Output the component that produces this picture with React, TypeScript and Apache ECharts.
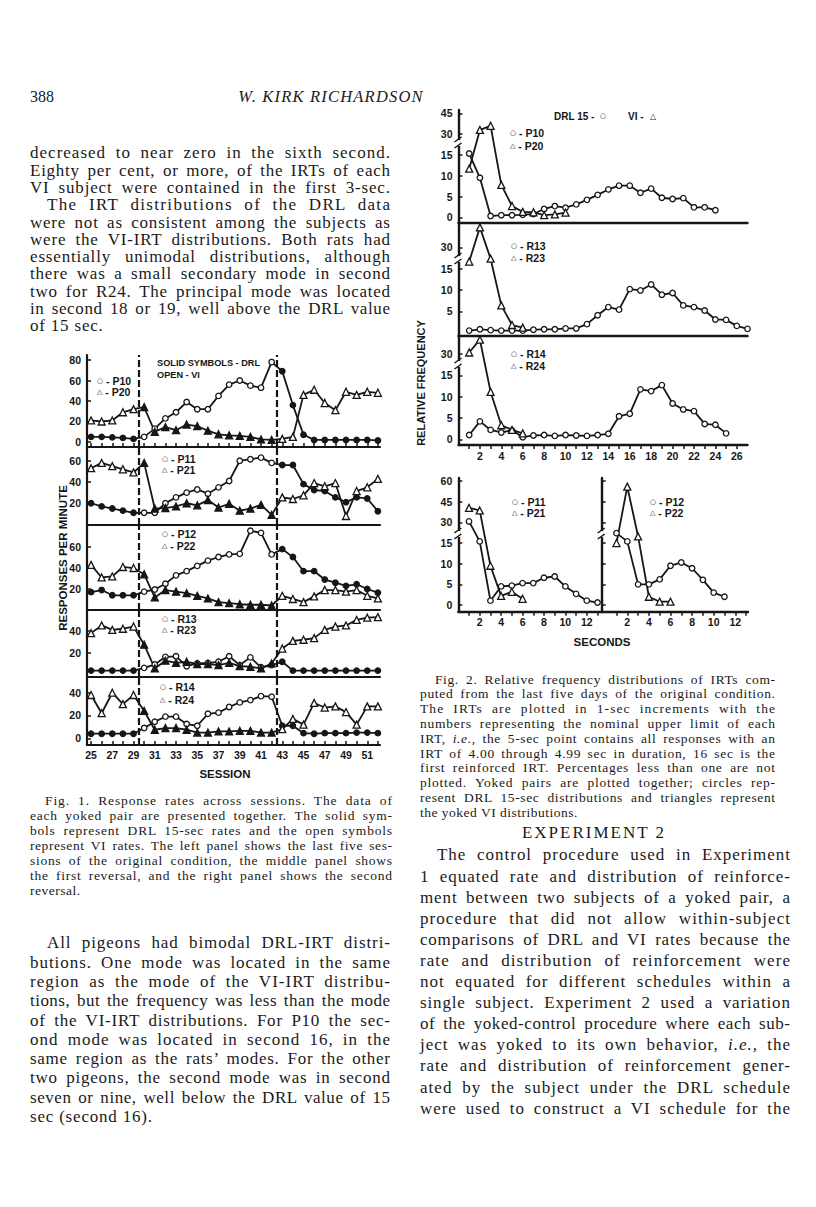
import React, { useEffect, useRef } from "react";
import * as echarts from "echarts";

// ---------------- DATA ----------------
const SESSIONS = [25, 26, 27, 28, 29, 30, 31, 32, 33, 34, 35, 36, 37, 38, 39, 40, 41, 42, 43, 44, 45, 46, 47, 48, 49, 50, 51, 52];
const SESSION_LABELS = [25, 27, 29, 31, 33, 35, 37, 39, 41, 43, 45, 47, 49, 51];
const REVERSALS = [29.5, 42.5];
const LAST_BASELINE = 29;
const LAST_REVERSAL = 42;

// Fig. 1 responses per minute (circle subject / triangle subject)
const P10 = [5, 5, 4.5, 4, 3, 5, 13, 23, 29, 39, 32, 32, 45, 56, 60, 55, 53, 78, 69, 36, 7, 2, 2, 2, 2, 2, 2, 1.5];
const P20 = [21, 20, 21, 29, 32, 34, 10, 14.5, 11.5, 17, 15.5, 11, 7.5, 6.5, 6, 5, 2.5, 2, 3, 5, 46, 51, 38, 31, 49, 46, 49, 48];
const P11 = [20, 17, 15, 13, 11, 11, 11, 20, 25.5, 30, 33, 29, 35, 41, 60, 61.5, 63, 58, 56, 56, 38, 32.5, 31.5, 25.5, 21, 25.5, 24.5, 12.5];
const P21 = [53, 58, 55, 52, 49, 58, 15, 15.5, 17, 20, 18, 23, 16, 19.5, 13, 15, 18.5, 9, 25.5, 24, 27.5, 39, 36, 39, 8, 31.5, 35, 43];
const P12 = [17, 19, 14, 14, 14, 17.5, 19.5, 25, 33, 37, 42, 47, 50.5, 53, 53.5, 75.5, 73.5, 53, 58, 50.5, 37, 37, 29, 26, 23, 24.5, 20, 16.5];
const P22 = [43, 31, 32, 41, 40, 34, 12, 19, 17.5, 16, 13.5, 11, 7.5, 6.5, 5.5, 5, 5, 4.3, 13.5, 10.5, 7.5, 13, 19, 19, 17.5, 19, 13.5, 11];
const R13 = [4, 4, 4, 4, 4, 6.5, 9.5, 16.5, 17, 8, 10.5, 11, 12, 17, 9, 16, 7, 9, 12, 4, 4, 4, 4, 4, 4, 4, 4, 4];
const R23 = [38, 45, 41, 42, 44, 27.5, 6, 13, 11, 12, 10, 10, 9, 11, 8, 7.5, 6, 10.5, 24, 31, 32, 33.5, 41, 44, 45, 50, 52, 52.5];
const R14 = [4, 4, 4, 4, 4, 9, 14.5, 19, 19, 12.5, 11, 21.5, 22.5, 27.5, 31.5, 33.5, 37, 36.5, 11, 11, 4.5, 4, 4.5, 4.5, 4.5, 5, 5, 4.5];
const R24 = [38, 22, 40, 30, 38, 24, 7.5, 9, 9, 7.5, 5, 5, 6, 6, 6.5, 6.5, 5, 5, 8, 17, 12, 31, 27, 28, 23, 12, 28, 28];

const FIG1_TICKS = [[0, 20, 40, 60, 80], [20, 40, 60], [20, 40, 60], [20, 40], [0, 20, 40]];

// Fig. 2 relative frequency (%) by second 1..n
const F_P10 = [16, 9.5, 0.3, 0.5, 0.5, 0.6, 0.8, 2, 2.7, 2.3, 3.1, 4.2, 5.4, 6.7, 7.6, 7.6, 5.9, 6.9, 4.7, 4.4, 4.6, 2.4, 2.4, 1.7];
const F_P20 = [11.7, 33, 36, 7.8, 2.7, 1.3, 1.2, 0.5, 0.7, 1.1];
const F_R13 = [0.5, 0.8, 0.6, 0.5, 0.5, 0.5, 0.7, 0.8, 0.8, 1, 1, 2, 4.1, 6, 5.4, 10.2, 9.9, 11.3, 8.9, 9.3, 6.4, 6, 5.2, 3.1, 3, 1.6, 0.9];
const F_R23 = [20, 44, 22, 6.4, 1.8, 1.2];
const F_R14 = [1, 4.2, 2.2, 1.6, 2.1, 0.5, 0.9, 1, 0.8, 1, 0.9, 0.8, 1, 1.3, 5.4, 6, 11.7, 11.3, 12.7, 8.4, 7, 6.6, 3.6, 3.4, 1.4];
const F_R24 = [31, 40, 11.1, 3.3, 2.2, 1.4];
const F_P11 = [30.7, 16.2, 1.05, 4.5, 4.7, 5.3, 5.3, 6.6, 6.9, 4.5, 2.7, 1.05, 0.6];
const F_P21 = [40.5, 38.7, 9.5, 2.2, 3.2, 1.5];
const F_P12 = [22.2, 16.2, 5, 5, 6.2, 9.5, 10.3, 8.9, 6.1, 3, 2];
const F_P22 = [15, 56, 19.8, 2, 0.8, 0.8];

const SEC_TICKS_TOP = [1, 2, 3, 4, 5, 6, 7, 8, 9, 10, 11, 12, 13, 14, 15, 16, 17, 18, 19, 20, 21, 22, 23, 24, 25, 26];
const SEC_LABELS_TOP = [2, 4, 6, 8, 10, 12, 14, 16, 18, 20, 22, 24, 26];
const SEC_TICKS_LOW = [1, 2, 3, 4, 5, 6, 7, 8, 9, 10, 11, 12, 13];
const SEC_LABELS_LOW = [2, 4, 6, 8, 10, 12];
const FREQ_TICKS = [[0, 5, 10, 15, 30, 45], [5, 10, 15, 30], [0, 5, 10, 15, 30], [0, 5, 10, 15, 30, 45, 60]];
const BREAK_AT = 15;
const BREAK_RATIO = 3;

// ---------------- LAYOUT / STYLE ----------------
const SANS = '"Liberation Sans", Arial, sans-serif';
const SERIF = '"Liberation Serif", "Times New Roman", serif';
const INK = "#161616";

const brk = (v: number) => (v <= BREAK_AT ? v : BREAK_AT + (v - BREAK_AT) / BREAK_RATIO);
const unbrk = (t: number) => (t <= BREAK_AT ? t : BREAK_AT + (t - BREAK_AT) * BREAK_RATIO);

const FIG1_LAYOUT = [
  { top: 355, bottom: 447, min: -4.9, max: 84.9 },
  { top: 447, bottom: 525, min: -0.5, max: 73 },
  { top: 525, bottom: 610, min: 0, max: 81 },
  { top: 610, bottom: 677, min: -1.8, max: 59 },
  { top: 677, bottom: 745, min: -5.9, max: 53.8 },
];
const FIG1_X = { left: 87, width: 293, min: 24.62, max: 52.2 };

const FIG2_LAYOUT = [
  { left: 458.5, right: 747.5, top: 110, bottom: 222.7, min: -1.3, max: 25.8, xmin: 0, xmax: 27 },
  { left: 458.5, right: 747.5, top: 222.7, bottom: 336, min: -0.77, max: 25.76, xmin: 0, xmax: 27 },
  { left: 458.5, right: 747.5, top: 336, bottom: 445, min: -1.33, max: 24.2, xmin: 0, xmax: 27 },
  { left: 458.3, right: 602, top: 478, bottom: 611.7, min: -1.62, max: 30.75, xmin: 0, xmax: 13.42 },
  { left: 601.7, right: 748, top: 478, bottom: 611.7, min: -1.62, max: 30.75, xmin: -0.37, xmax: 13.18 },
];

const axisFont = { fontFamily: SANS, fontWeight: "bold" as const, fontSize: 10.5, color: INK };

function buildOption() {
  const grid: any[] = [];
  const xAxis: any[] = [];
  const yAxis: any[] = [];
  const series: any[] = [];
  const graphic: any[] = [];

  const fig1Pairs = [
    [P10, P20],
    [P11, P21],
    [P12, P22],
    [R13, R23],
    [R14, R24],
  ];

  FIG1_LAYOUT.forEach((p, i) => {
    grid.push({ left: FIG1_X.left, width: FIG1_X.width, top: p.top, height: p.bottom - p.top });
    const showTicks = i === 0 || i === 4;
    xAxis.push({
      gridIndex: i,
      type: "value",
      min: FIG1_X.min,
      max: FIG1_X.max,
      axisLine: { show: true, onZero: false, lineStyle: { color: INK, width: 2.2 } },
      axisTick: { show: showTicks, inside: true, length: 4, customValues: SESSIONS, lineStyle: { color: INK, width: 1.5 } },
      axisLabel: { show: i === 4, customValues: SESSION_LABELS, margin: 4, ...axisFont },
      splitLine: { show: false },
    });
    yAxis.push({
      gridIndex: i,
      type: "value",
      min: p.min,
      max: p.max,
      axisLine: { show: true, onZero: false, lineStyle: { color: INK, width: 2.2 } },
      axisTick: { show: true, inside: true, length: 4, customValues: FIG1_TICKS[i], lineStyle: { color: INK, width: 1.5 } },
      axisLabel: { customValues: FIG1_TICKS[i], margin: 6, ...axisFont },
      splitLine: { show: false },
    });
    const [circ, tri] = fig1Pairs[i];
    const phase = (s: number) => (s <= LAST_BASELINE ? 0 : s <= LAST_REVERSAL ? 1 : 2);
    series.push({
      type: "line",
      xAxisIndex: i,
      yAxisIndex: i,
      symbol: "circle",
      symbolSize: 5.5,
      lineStyle: { color: INK, width: 1.8 },
      data: SESSIONS.map((s, k) => ({
        value: [s, circ[k]],
        itemStyle: { color: phase(s) === 1 ? "#fff" : INK, borderColor: INK, borderWidth: 1.3 },
      })),
      markLine: {
        silent: true,
        symbol: ["none", "none"],
        label: { show: false },
        lineStyle: { type: [7, 3], width: 2.2, color: INK },
        data: REVERSALS.map((x) => ({ xAxis: x })),
      },
      z: 3,
    });
    series.push({
      type: "line",
      xAxisIndex: i,
      yAxisIndex: i,
      symbol: "triangle",
      symbolSize: 7,
      lineStyle: { color: INK, width: 1.8 },
      data: SESSIONS.map((s, k) => ({
        value: [s, tri[k]],
        itemStyle: { color: phase(s) === 1 ? INK : "#fff", borderColor: INK, borderWidth: 1.3 },
      })),
      z: 3,
    });
  });

  const fig2Pairs = [
    [F_P10, F_P20],
    [F_R13, F_R23],
    [F_R14, F_R24],
    [F_P11, F_P21],
    [F_P12, F_P22],
  ];
  FIG2_LAYOUT.forEach((p, j) => {
    const gi = 5 + j;
    grid.push({ left: p.left, width: p.right - p.left, top: p.top, height: p.bottom - p.top });
    const isBottomTop = j === 2;
    const isLow = j >= 3;
    xAxis.push({
      gridIndex: gi,
      type: "value",
      min: p.xmin,
      max: p.xmax,
      axisLine: { show: true, onZero: false, lineStyle: { color: INK, width: 2.4 } },
      axisTick: {
        show: isBottomTop || isLow,
        inside: false,
        length: 4,
        customValues: isLow ? SEC_TICKS_LOW : SEC_TICKS_TOP,
        lineStyle: { color: INK, width: 1.5 },
      },
      axisLabel: {
        show: isBottomTop || isLow,
        customValues: isLow ? SEC_LABELS_LOW : SEC_LABELS_TOP,
        margin: 5,
        ...axisFont,
      },
      splitLine: { show: false },
    });
    const ticks = (j <= 2 ? FREQ_TICKS[j] : FREQ_TICKS[3]).map(brk);
    yAxis.push({
      gridIndex: gi,
      type: "value",
      min: p.min,
      max: p.max,
      axisLine: { show: true, onZero: false, lineStyle: { color: INK, width: 2.4 } },
      axisTick: { show: true, inside: true, length: 4, customValues: ticks, lineStyle: { color: INK, width: 1.5 } },
      axisLabel: {
        show: j !== 4,
        customValues: ticks,
        margin: 6,
        formatter: (v: number) => String(Math.round(unbrk(v))),
        ...axisFont,
      },
      splitLine: { show: false },
    });
    const [circ, tri] = fig2Pairs[j];
    series.push({
      type: "line",
      xAxisIndex: gi,
      yAxisIndex: gi,
      symbol: "circle",
      symbolSize: 5.5,
      lineStyle: { color: INK, width: 1.8 },
      itemStyle: { color: "#fff", borderColor: INK, borderWidth: 1.3 },
      data: circ.map((v, k) => [k + 1, brk(v)]),
      z: 3,
    });
    series.push({
      type: "line",
      xAxisIndex: gi,
      yAxisIndex: gi,
      symbol: "triangle",
      symbolSize: 7,
      lineStyle: { color: INK, width: 1.8 },
      itemStyle: { color: "#fff", borderColor: INK, borderWidth: 1.3 },
      data: tri.map((v, k) => [k + 1, brk(v)]),
      z: 3,
    });
  });

  const label = (x: number, y: number, text: string, size = 10.5, extra: any = {}) => ({
    type: "text",
    x,
    y,
    z: 10,
    style: {
      text,
      fontFamily: SANS,
      fontWeight: "bold",
      fontSize: size,
      fill: INK,
      textAlign: "left",
      textVerticalAlign: "middle",
      ...extra,
    },
  });
  const legend = (x: number, y: number, sym: string, name: string) => ({
    type: "text",
    x,
    y,
    z: 10,
    style: {
      text: `{s|${sym}}{t| - ${name}}`,
      textVerticalAlign: "middle",
      rich: {
        s: { fontFamily: '"DejaVu Sans"', fontSize: 7, fill: INK },
        t: { fontFamily: SANS, fontWeight: "bold", fontSize: 10.5, fill: INK },
      },
    },
  });
  const symText = (x: number, y: number, sym: string, size: number) => ({
    type: "text",
    x,
    y,
    z: 10,
    style: { text: sym, fontFamily: '"DejaVu Sans"', fontSize: size, fill: INK, textVerticalAlign: "middle" },
  });
  const breakMark = (x: number, y: number) => [
    { type: "rect", z: 11, shape: { x: x - 2, y: y - 3, width: 4, height: 6 }, style: { fill: "#fff" } },
    { type: "line", z: 12, shape: { x1: x - 4, y1: y - 1, x2: x + 3, y2: y - 6 }, style: { stroke: INK, lineWidth: 1.5 } },
    { type: "line", z: 12, shape: { x1: x - 4, y1: y + 5, x2: x + 3, y2: y }, style: { stroke: INK, lineWidth: 1.5 } },
  ];

  graphic.push(
    label(157, 363, "SOLID SYMBOLS - DRL", 9.2),
    label(157, 375, "OPEN - VI", 9.2),
    legend(97, 381, "○", "P10"),
    legend(97, 392, "△", "P20"),
    legend(162, 459, "○", "P11"),
    legend(162, 470, "△", "P21"),
    legend(162, 534, "○", "P12"),
    legend(162, 546, "△", "P22"),
    legend(162, 619, "○", "R13"),
    legend(162, 630, "△", "R23"),
    legend(160, 687, "○", "R14"),
    legend(160, 700, "△", "R24"),
    label(225, 774, "SESSION", 11.5, { textAlign: "center" }),
    { ...label(63, 558, "RESPONSES PER MINUTE", 11.5, { textAlign: "center" }), rotation: Math.PI / 2 },
    label(554, 116, "DRL 15 -", 10),
    symText(600, 116, "○", 7),
    label(628, 116, "VI -", 10),
    symText(650, 116, "△", 8),
    legend(510, 133, "○", "P10"),
    legend(510, 146, "△", "P20"),
    legend(511, 246, "○", "R13"),
    legend(511, 258, "△", "R23"),
    legend(511, 354, "○", "R14"),
    legend(511, 366, "△", "R24"),
    legend(512, 502, "○", "P11"),
    legend(512, 513, "△", "P21"),
    legend(650, 502, "○", "P12"),
    legend(650, 513, "△", "P22"),
    label(602, 642, "SECONDS", 11.5, { textAlign: "center" }),
    { ...label(421, 383, "RELATIVE FREQUENCY", 11, { textAlign: "center" }), rotation: Math.PI / 2 },
    ...breakMark(458.5, 143),
    ...breakMark(458.5, 259),
    ...breakMark(458.5, 364),
    ...breakMark(458.3, 534),
    ...breakMark(601.7, 534)
  );

  return {
    animation: false,
    backgroundColor: "#fff",
    grid,
    xAxis,
    yAxis,
    series,
    graphic,
  };
}

// ---------------- PAGE TEXT ----------------
type TLine = { t: string; j?: boolean; ind?: number };
type Block = { x: number; y0: number; w: number; lh: number; size: number; ls: number; lines: TLine[] };

const LEFT_TOP: Block = {
  x: 30, y0: 153, w: 360, lh: 17.3, size: 17, ls: 0.8,
  lines: [
    { t: "decreased to near zero in the sixth second.", j: true },
    { t: "Eighty per cent, or more, of the IRTs of each", j: true },
    { t: "VI subject were contained in the first 3-sec.", j: true },
    { t: "The IRT distributions of the DRL data", j: true, ind: 17 },
    { t: "were not as consistent among the subjects as", j: true },
    { t: "were the VI-IRT distributions. Both rats had", j: true },
    { t: "essentially unimodal distributions, although", j: true },
    { t: "there was a small secondary mode in second", j: true },
    { t: "two for R24. The principal mode was located", j: true },
    { t: "in second 18 or 19, well above the DRL value", j: true },
    { t: "of 15 sec." },
  ],
};

const LEFT_BOTTOM: Block = {
  x: 30, y0: 943, w: 360, lh: 19.3, size: 17, ls: 0.8,
  lines: [
    { t: "All pigeons had bimodal DRL-IRT distri-", j: true, ind: 17 },
    { t: "butions. One mode was located in the same", j: true },
    { t: "region as the mode of the VI-IRT distribu-", j: true },
    { t: "tions, but the frequency was less than the mode", j: true },
    { t: "of the VI-IRT distributions. For P10 the sec-", j: true },
    { t: "ond mode was located in second 16, in the", j: true },
    { t: "same region as the rats’ modes. For the other", j: true },
    { t: "two pigeons, the second mode was in second", j: true },
    { t: "seven or nine, well below the DRL value of 15", j: true },
    { t: "sec (second 16)." },
  ],
};

const RIGHT_BOTTOM: Block = {
  x: 420, y0: 855, w: 370, lh: 21.1, size: 17, ls: 0.8,
  lines: [
    { t: "The control procedure used in Experiment", j: true, ind: 17 },
    { t: "1 equated rate and distribution of reinforce-", j: true },
    { t: "ment between two subjects of a yoked pair, a", j: true },
    { t: "procedure that did not allow within-subject", j: true },
    { t: "comparisons of DRL and VI rates because the", j: true },
    { t: "rate and distribution of reinforcement were", j: true },
    { t: "not equated for different schedules within a", j: true },
    { t: "single subject. Experiment 2 used a variation", j: true },
    { t: "of the yoked-control procedure where each sub-", j: true },
    { t: "ject was yoked to its own behavior, *i.e.,* the", j: true },
    { t: "rate and distribution of reinforcement gener-", j: true },
    { t: "ated by the subject under the DRL schedule", j: true },
    { t: "were used to construct a VI schedule for the", j: true },
  ],
};

const CAPTION1: Block = {
  x: 30, y0: 800, w: 362, lh: 15, size: 13.5, ls: 0.5,
  lines: [
    { t: "Fig. 1. Response rates across sessions. The data of", j: true, ind: 15 },
    { t: "each yoked pair are presented together. The solid sym-", j: true },
    { t: "bols represent DRL 15-sec rates and the open symbols", j: true },
    { t: "represent VI rates. The left panel shows the last five ses-", j: true },
    { t: "sions of the original condition, the middle panel shows", j: true },
    { t: "the first reversal, and the right panel shows the second", j: true },
    { t: "reversal." },
  ],
};

const CAPTION2: Block = {
  x: 420, y0: 680, w: 355, lh: 14.8, size: 13.5, ls: 0.5,
  lines: [
    { t: "Fig. 2. Relative frequency distributions of IRTs com-", j: true, ind: 15 },
    { t: "puted from the last five days of the original condition.", j: true },
    { t: "The IRTs are plotted in 1-sec increments with the", j: true },
    { t: "numbers representing the nominal upper limit of each", j: true },
    { t: "IRT, *i.e.,* the 5-sec point contains all responses with an", j: true },
    { t: "IRT of 4.00 through 4.99 sec in duration, 16 sec is the", j: true },
    { t: "first reinforced IRT. Percentages less than one are not", j: true },
    { t: "plotted. Yoked pairs are plotted together; circles rep-", j: true },
    { t: "resent DRL 15-sec distributions and triangles represent", j: true },
    { t: "the yoked VI distributions." },
  ],
};

const BLOCKS = [LEFT_TOP, LEFT_BOTTOM, RIGHT_BOTTOM, CAPTION1, CAPTION2];

let measureCtx: CanvasRenderingContext2D | null = null;
function naturalWidth(text: string, size: number) {
  if (!measureCtx) measureCtx = document.createElement("canvas").getContext("2d");
  if (!measureCtx) return 0;
  measureCtx.font = `${size}px "Liberation Serif"`;
  return measureCtx.measureText(text.replace(/\*/g, "")).width;
}

function renderRich(t: string) {
  return t.split("*").map((part, i) =>
    i % 2 === 1 ? <i key={i}>{part}</i> : <React.Fragment key={i}>{part}</React.Fragment>
  );
}

function TextBlock({ b }: { b: Block }) {
  return (
    <>
      {b.lines.map((ln, i) => {
        const ind = ln.ind || 0;
        const w = b.w - ind;
        const plain = ln.t.replace(/\*/g, "");
        let ls = b.ls;
        if (ln.j) {
          const extra = w - naturalWidth(plain, b.size) - 2;
          ls = Math.max(0, Math.min(1.4, (extra * 0.6) / Math.max(1, plain.length - 1)));
        }
        return (
          <div
            key={i}
            style={{
              position: "absolute",
              left: b.x + ind,
              top: b.y0 + i * b.lh - b.lh / 2,
              width: w + (ln.j ? ls : 0),
              height: b.lh,
              lineHeight: `${b.lh}px`,
              fontSize: b.size,
              fontFamily: SERIF,
              letterSpacing: ls,
              color: "#1a1a1a",
              textAlign: "justify",
              textAlignLast: ln.j ? "justify" : "left",
            } as any}
          >
            {renderRich(ln.t)}
          </div>
        );
      })}
    </>
  );
}

export default function App() {
  const ref = useRef<HTMLDivElement>(null);
  useEffect(() => {
    const chart = echarts.init(ref.current!, null, { renderer: "svg" });
    chart.setOption(buildOption() as any);
    return () => chart.dispose();
  }, []);
  return (
    <div style={{ position: "absolute", left: 0, top: 0, width: 816, height: 1207, background: "#fff", overflow: "hidden" }}>
      <div ref={ref} style={{ position: "absolute", left: 0, top: 0, width: 816, height: 1207 }} />
      <div style={{ position: "absolute", left: 30, top: 87, fontFamily: SERIF, fontSize: 16, lineHeight: "20px", color: "#1a1a1a" }}>388</div>
      <div
        style={{
          position: "absolute",
          left: 221,
          top: 87,
          width: 220,
          textAlign: "center",
          fontFamily: SERIF,
          fontStyle: "italic",
          fontSize: 16.5,
          letterSpacing: 1.2,
          lineHeight: "20px",
          color: "#1a1a1a",
        }}
      >
        W. KIRK RICHARDSON
      </div>
      <div
        style={{
          position: "absolute",
          left: 484,
          top: 823,
          width: 220,
          textAlign: "center",
          fontFamily: SERIF,
          fontSize: 17,
          letterSpacing: 2,
          lineHeight: "20px",
          color: "#1a1a1a",
        }}
      >
        EXPERIMENT 2
      </div>
      {BLOCKS.map((b, i) => (
        <TextBlock key={i} b={b} />
      ))}
    </div>
  );
}
